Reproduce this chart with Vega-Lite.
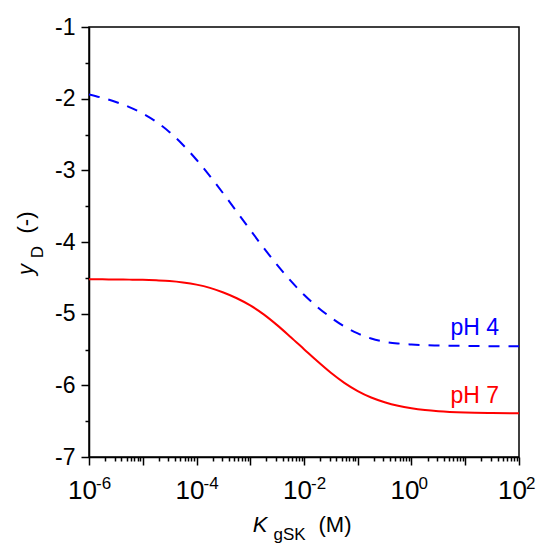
{
  "$schema": "https://vega.github.io/schema/vega-lite/v6.json",
  "width": 430,
  "height": 430,
  "autosize": "none",
  "padding": {"left": 89, "top": 27, "right": 27, "bottom": 93},
  "background": "white",
  "datasets": {
    "curves": [
      {"series": "pH 4", "K": 1e-6, "yD": -1.94},
      {"series": "pH 4", "K": 1.778e-6, "yD": -1.989},
      {"series": "pH 4", "K": 3.162e-6, "yD": -2.046},
      {"series": "pH 4", "K": 5.623e-6, "yD": -2.117},
      {"series": "pH 4", "K": 1e-5, "yD": -2.207},
      {"series": "pH 4", "K": 1.778e-5, "yD": -2.322},
      {"series": "pH 4", "K": 3.162e-5, "yD": -2.468},
      {"series": "pH 4", "K": 5.623e-5, "yD": -2.646},
      {"series": "pH 4", "K": 1e-4, "yD": -2.852},
      {"series": "pH 4", "K": 1.778e-4, "yD": -3.081},
      {"series": "pH 4", "K": 3.162e-4, "yD": -3.325},
      {"series": "pH 4", "K": 5.623e-4, "yD": -3.577},
      {"series": "pH 4", "K": 1e-3, "yD": -3.832},
      {"series": "pH 4", "K": 1.778e-3, "yD": -4.082},
      {"series": "pH 4", "K": 3.162e-3, "yD": -4.32},
      {"series": "pH 4", "K": 5.623e-3, "yD": -4.54},
      {"series": "pH 4", "K": 0.01, "yD": -4.737},
      {"series": "pH 4", "K": 0.01778, "yD": -4.907},
      {"series": "pH 4", "K": 0.03162, "yD": -5.053},
      {"series": "pH 4", "K": 0.05623, "yD": -5.178},
      {"series": "pH 4", "K": 0.1, "yD": -5.276},
      {"series": "pH 4", "K": 0.1778, "yD": -5.347},
      {"series": "pH 4", "K": 0.3162, "yD": -5.392},
      {"series": "pH 4", "K": 0.5623, "yD": -5.416},
      {"series": "pH 4", "K": 1, "yD": -5.43},
      {"series": "pH 4", "K": 3.162, "yD": -5.444},
      {"series": "pH 4", "K": 10, "yD": -5.45},
      {"series": "pH 4", "K": 31.62, "yD": -5.454},
      {"series": "pH 4", "K": 100, "yD": -5.456},
      {"series": "pH 7", "K": 1e-6, "yD": -4.52},
      {"series": "pH 7", "K": 1.778e-6, "yD": -4.521},
      {"series": "pH 7", "K": 3.162e-6, "yD": -4.523},
      {"series": "pH 7", "K": 5.623e-6, "yD": -4.525},
      {"series": "pH 7", "K": 1e-5, "yD": -4.528},
      {"series": "pH 7", "K": 1.778e-5, "yD": -4.535},
      {"series": "pH 7", "K": 3.162e-5, "yD": -4.545},
      {"series": "pH 7", "K": 5.623e-5, "yD": -4.565},
      {"series": "pH 7", "K": 1e-4, "yD": -4.595},
      {"series": "pH 7", "K": 1.778e-4, "yD": -4.64},
      {"series": "pH 7", "K": 3.162e-4, "yD": -4.705},
      {"series": "pH 7", "K": 5.623e-4, "yD": -4.785},
      {"series": "pH 7", "K": 1e-3, "yD": -4.885},
      {"series": "pH 7", "K": 1.778e-3, "yD": -5.01},
      {"series": "pH 7", "K": 3.162e-3, "yD": -5.16},
      {"series": "pH 7", "K": 5.623e-3, "yD": -5.325},
      {"series": "pH 7", "K": 0.01, "yD": -5.495},
      {"series": "pH 7", "K": 0.01778, "yD": -5.665},
      {"series": "pH 7", "K": 0.03162, "yD": -5.825},
      {"series": "pH 7", "K": 0.05623, "yD": -5.965},
      {"series": "pH 7", "K": 0.1, "yD": -6.08},
      {"series": "pH 7", "K": 0.1778, "yD": -6.17},
      {"series": "pH 7", "K": 0.3162, "yD": -6.235},
      {"series": "pH 7", "K": 0.5623, "yD": -6.285},
      {"series": "pH 7", "K": 1, "yD": -6.32},
      {"series": "pH 7", "K": 1.778, "yD": -6.345},
      {"series": "pH 7", "K": 3.162, "yD": -6.362},
      {"series": "pH 7", "K": 10, "yD": -6.38},
      {"series": "pH 7", "K": 31.62, "yD": -6.387},
      {"series": "pH 7", "K": 100, "yD": -6.39}
    ],
    "labels": [
      {"series": "pH 4", "K": 15, "yD": -5.3},
      {"series": "pH 7", "K": 15, "yD": -6.25}
    ]
  },
  "layer": [
    {
      "data": {"name": "curves"},
      "transform": [{"filter": "datum.series == 'pH 4'"}],
      "mark": {"type": "line", "color": "#0000ff", "strokeWidth": 2, "strokeDash": [11, 9], "interpolate": "monotone", "clip": true},
      "encoding": {
        "x": {
          "field": "K", "type": "quantitative",
          "scale": {"type": "log", "domain": [1e-6, 100], "nice": false},
          "axis": {
            "orient": "bottom",
            "values": [1e-6, 1e-5, 1e-4, 1e-3, 0.01, 0.1, 1, 10, 100],
            "labelExpr": "round(log(datum.value) / LN10) % 2 == 0 ? '10' : ''",
            "tickSize": 8, "tickWidth": 1.5, "domainWidth": 1.5,
            "labelFontSize": 26, "labelPadding": 33, "labelBaseline": "alphabetic",
            "labelAlign": "center", "labelOffset": -7,
            "labelOverlap": false, "labelFlush": false, "labelBound": false,
            "title": "K", "titleFontStyle": "italic", "titleFontSize": 22,
            "titleX": 170.5, "titleY": 74, "titleAlign": "center", "titleBaseline": "alphabetic", "titleAngle": 0
          }
        },
        "y": {
          "field": "yD", "type": "quantitative",
          "scale": {"domain": [-7, -1], "nice": false, "zero": false},
          "axis": {
            "orient": "left",
            "values": [-7, -6, -5, -4, -3, -2, -1],
            "labelExpr": "'' + datum.value",
            "tickSize": 8, "tickWidth": 1.5, "domainWidth": 1.5,
            "labelFontSize": 23, "labelPadding": 6,
            "labelOverlap": false, "labelFlush": false, "labelBound": false,
            "title": "y", "titleFontStyle": "italic", "titleFontSize": 22,
            "titleX": -57, "titleY": 242, "titleAlign": "center", "titleBaseline": "alphabetic", "titleAngle": -90
          }
        }
      }
    },
    {
      "data": {"name": "curves"},
      "transform": [{"filter": "datum.series == 'pH 7'"}],
      "mark": {"type": "line", "color": "#ff0000", "strokeWidth": 2, "interpolate": "monotone", "clip": true},
      "encoding": {
        "x": {
          "field": "K", "type": "quantitative",
          "scale": {"type": "log", "domain": [1e-6, 100], "nice": false},
          "axis": {
            "orient": "bottom",
            "values": [2e-6, 3e-6, 4e-6, 5e-6, 6e-6, 7e-6, 8e-6, 9e-6,
                       2e-5, 3e-5, 4e-5, 5e-5, 6e-5, 7e-5, 8e-5, 9e-5,
                       2e-4, 3e-4, 4e-4, 5e-4, 6e-4, 7e-4, 8e-4, 9e-4,
                       2e-3, 3e-3, 4e-3, 5e-3, 6e-3, 7e-3, 8e-3, 9e-3,
                       0.02, 0.03, 0.04, 0.05, 0.06, 0.07, 0.08, 0.09,
                       0.2, 0.3, 0.4, 0.5, 0.6, 0.7, 0.8, 0.9,
                       2, 3, 4, 5, 6, 7, 8, 9,
                       20, 30, 40, 50, 60, 70, 80, 90],
            "tickSize": 4, "tickWidth": 1.5, "domain": false, "labels": false,
            "title": "gSK", "titleFontSize": 17,
            "titleX": 200, "titleY": 82, "titleAlign": "center", "titleBaseline": "alphabetic", "titleAngle": 0
          }
        },
        "y": {
          "field": "yD", "type": "quantitative",
          "scale": {"domain": [-7, -1], "nice": false, "zero": false},
          "axis": {
            "orient": "left",
            "values": [-6.5, -5.5, -4.5, -3.5, -2.5, -1.5],
            "tickSize": 4, "tickWidth": 1.5, "domain": false, "labels": false,
            "title": "D", "titleFontSize": 17,
            "titleX": -47, "titleY": 224.5, "titleAlign": "center", "titleBaseline": "alphabetic", "titleAngle": -90
          }
        }
      }
    },
    {
      "data": {"name": "labels"},
      "mark": {"type": "text", "fontSize": 23, "align": "center", "baseline": "alphabetic"},
      "encoding": {
        "x": {
          "field": "K", "type": "quantitative",
          "scale": {"type": "log", "domain": [1e-6, 100], "nice": false},
          "axis": {
            "orient": "bottom",
            "values": [1e-6, 1e-4, 0.01, 1, 100],
            "labelExpr": "'' + round(log(datum.value) / LN10)",
            "ticks": false, "tickSize": 0, "domain": false,
            "labelFontSize": 17, "labelPadding": 31, "labelBaseline": "alphabetic",
            "labelAlign": "left", "labelOffset": 6.5,
            "labelOverlap": false, "labelFlush": false, "labelBound": false,
            "title": "(M)", "titleFontSize": 22,
            "titleX": 245.5, "titleY": 74, "titleAlign": "center", "titleBaseline": "alphabetic", "titleAngle": 0
          }
        },
        "y": {
          "field": "yD", "type": "quantitative",
          "scale": {"domain": [-7, -1], "nice": false, "zero": false},
          "axis": {
            "orient": "left",
            "ticks": false, "tickSize": 0, "domain": false, "labels": false,
            "title": "(-)", "titleFontSize": 22,
            "titleX": -57, "titleY": 195, "titleAlign": "center", "titleBaseline": "alphabetic", "titleAngle": -90
          }
        },
        "text": {"field": "series", "type": "nominal"},
        "color": {
          "field": "series", "type": "nominal",
          "scale": {"domain": ["pH 4", "pH 7"], "range": ["#0000ff", "#ff0000"]},
          "legend": null
        }
      }
    }
  ],
  "resolve": {"axis": {"x": "independent", "y": "independent"}},
  "config": {
    "font": "Liberation Sans",
    "view": {"stroke": "black", "strokeWidth": 1.5},
    "axis": {
      "grid": false,
      "domainColor": "black",
      "tickColor": "black",
      "labelColor": "black",
      "titleColor": "black",
      "labelFont": "Liberation Sans",
      "titleFont": "Liberation Sans",
      "titleFontWeight": "normal"
    }
  }
}
